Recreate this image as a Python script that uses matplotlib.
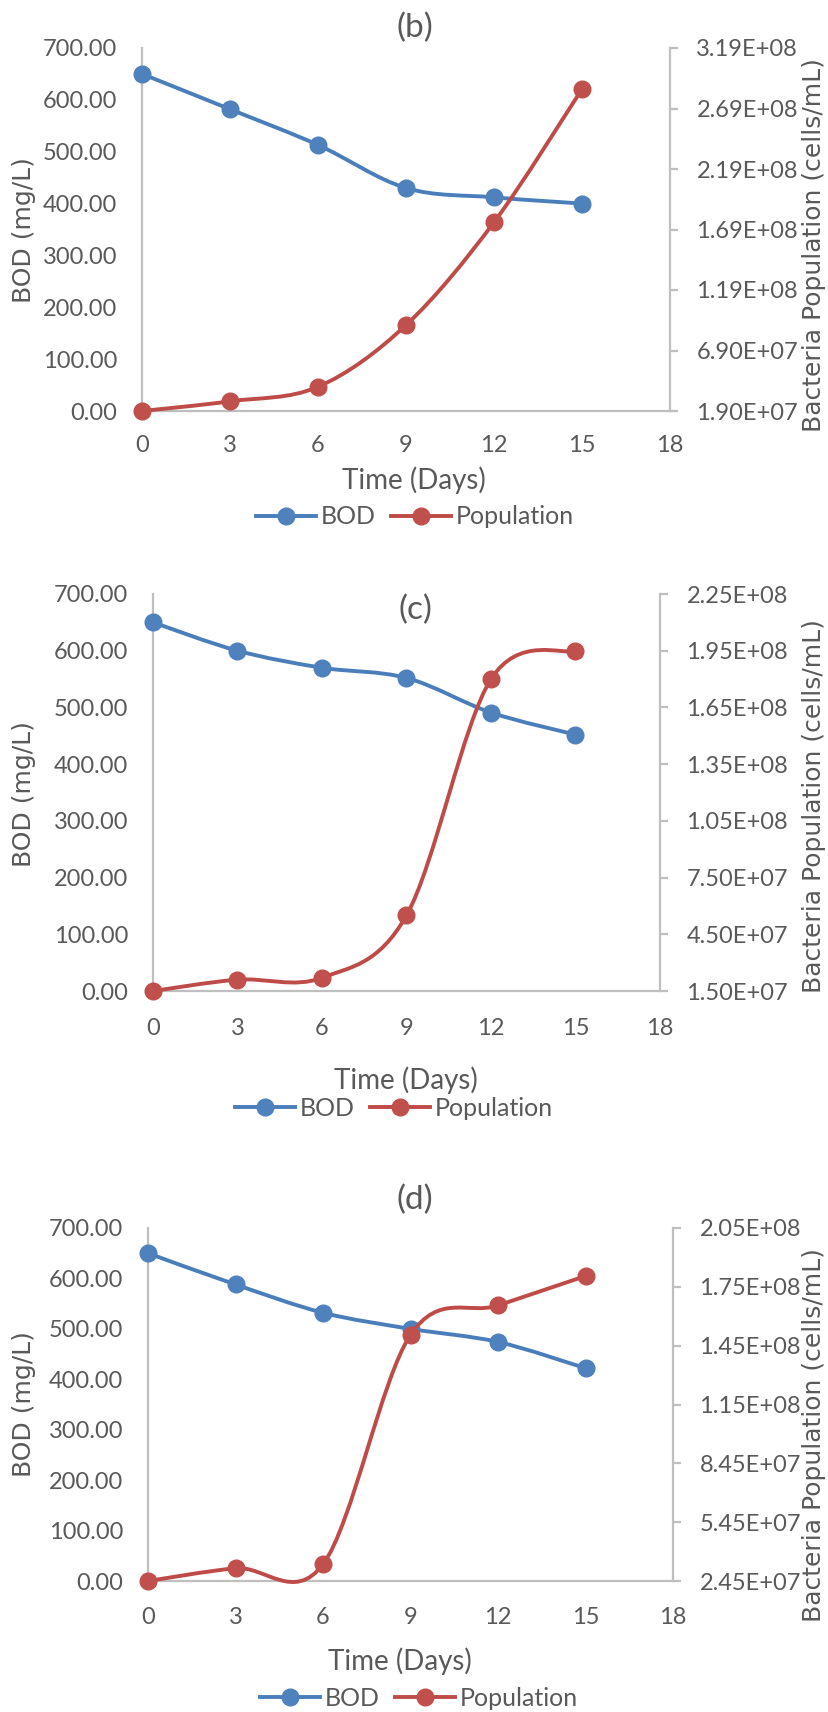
import matplotlib
matplotlib.use('Agg')
import matplotlib.pyplot as plt
from matplotlib.path import Path
from matplotlib.patches import PathPatch
from matplotlib.lines import Line2D

# data
days = [0, 3, 6, 9, 12, 15]

bod_b = [650, 582, 513, 430, 412, 400]
pop_b = [1.9e7, 2.7e7, 3.9e7, 9.0e7, 1.75e8, 2.85e8]

bod_c = [650, 600, 570, 552, 491, 452]
pop_c = [1.5e7, 2.1e7, 2.2e7, 5.5e7, 1.8e8, 1.95e8]

bod_d = [650, 588, 532, 500, 474, 422]
pop_d = [2.45e7, 3.1e7, 3.3e7, 1.5e8, 1.65e8, 1.8e8]

right_labels_b = ['1.90E+07', '6.90E+07', '1.19E+08', '1.69E+08', '2.19E+08', '2.69E+08', '3.19E+08']
right_labels_c = ['1.50E+07', '4.50E+07', '7.50E+07', '1.05E+08', '1.35E+08', '1.65E+08', '1.95E+08', '2.25E+08']
right_labels_d = ['2.45E+07', '5.45E+07', '8.45E+07', '1.15E+08', '1.45E+08', '1.75E+08', '2.05E+08']

W, H = 829, 1712
BLUE_LINE, BLUE_MK = '#4A7EBB', '#4F81BD'
RED_LINE, RED_MK = '#BE4B48', '#C0504D'
GRID = '#BFBFBF'
TXT = '#595959'

plt.rcParams['font.family'] = ['Lato', 'DejaVu Sans']

fig = plt.figure(figsize=(W / 100, H / 100), dpi=100)


def smooth_path(x, y):
    # excel style smoothed line (catmull-rom as cubic bezier)
    pts = list(zip(x, y))
    n = len(pts)
    verts = [pts[0]]
    codes = [Path.MOVETO]
    for i in range(n - 1):
        p0 = pts[i - 1] if i > 0 else pts[i]
        p1, p2 = pts[i], pts[i + 1]
        p3 = pts[i + 2] if i + 2 < n else pts[i + 1]
        c1 = (p1[0] + (p2[0] - p0[0]) / 6, p1[1] + (p2[1] - p0[1]) / 6)
        c2 = (p2[0] - (p3[0] - p1[0]) / 6, p2[1] - (p3[1] - p1[1]) / 6)
        verts += [c1, c2, p2]
        codes += [Path.CURVE4] * 3
    return Path(verts, codes)


def fx(px):
    return px / W


def fy(py):
    return 1 - py / H


def panel(box, bod, pop, lo, step, rlabels, title, title_y, xpad, time_xy,
          leg_xy, ylab_y, rlab_y):
    left, top, right, bottom = box
    ax = fig.add_axes([fx(left), fy(bottom), (right - left) / W, (bottom - top) / H])
    ax2 = ax.twinx()

    ax.set_xlim(0, 18)
    ax.set_ylim(0, 700)
    ax.set_xticks(range(0, 19, 3))
    ax.set_yticks(range(0, 701, 100))
    ax.set_yticklabels(['%.2f' % v for v in range(0, 701, 100)])
    hi = lo + step * (len(rlabels) - 1)
    ax2.set_ylim(lo, hi)
    ax2.set_yticks([lo + step * k for k in range(len(rlabels))], rlabels)

    for s in ['top', 'right']:
        ax.spines[s].set_visible(False)
    for s in ['top', 'left', 'bottom']:
        ax2.spines[s].set_visible(False)
    for sp in [ax.spines['left'], ax.spines['bottom'], ax2.spines['right']]:
        sp.set_color(GRID)
        sp.set_linewidth(1.6)

    ax.tick_params(axis='y', length=0, pad=18, labelsize=17, labelcolor=TXT)
    ax.tick_params(axis='x', length=0, pad=xpad, labelsize=17, labelcolor=TXT)
    ax2.tick_params(axis='y', length=6, width=1.6, color=GRID, pad=13,
                    labelsize=17, labelcolor=TXT)

    ax.add_patch(PathPatch(smooth_path(days, bod), facecolor='none',
                           edgecolor=BLUE_LINE, lw=2.8, clip_on=False, zorder=3))
    ax.plot(days, bod, 'o', color=BLUE_MK, ms=12, clip_on=False, zorder=4)
    ax2.add_patch(PathPatch(smooth_path(days, pop), facecolor='none',
                            edgecolor=RED_LINE, lw=2.8, clip_on=False, zorder=3))
    ax2.plot(days, pop, 'o', color=RED_MK, ms=12, clip_on=False, zorder=4)

    fig.text(fx(415), fy(title_y), title, ha='center', va='center',
             fontsize=24, color=TXT)
    fig.text(fx(time_xy[0]), fy(time_xy[1]), 'Time (Days)', ha='center',
             va='center', fontsize=20, color=TXT)
    fig.text(fx(24), fy(ylab_y), 'BOD (mg/L)', rotation=90, ha='center',
             va='center', fontsize=18, color=TXT, family='DejaVu Sans')
    fig.text(fx(814), fy(rlab_y), 'Bacteria Population (cells/mL)', rotation=90,
             ha='center', va='center', fontsize=18, color=TXT, family='DejaVu Sans')

    handles = [Line2D([], [], color=BLUE_LINE, lw=2.8, marker='o', ms=12, mfc=BLUE_MK, mec=BLUE_MK),
               Line2D([], [], color=RED_LINE, lw=2.8, marker='o', ms=12, mfc=RED_MK, mec=RED_MK)]
    leg = fig.legend(handles, ['BOD', 'Population'], loc='center',
                     bbox_to_anchor=(fx(leg_xy[0]), fy(leg_xy[1])), ncol=2,
                     frameon=False, fontsize=18, handlelength=2.4,
                     handletextpad=0.2, columnspacing=0.6, borderpad=0)
    for t in leg.get_texts():
        t.set_color(TXT)


panel((142, 48, 670, 411), bod_b, pop_b, 1.9e7, 5e7, right_labels_b,
      '(b)', 28, 17, (414, 480), (415, 517), 230, 245)
panel((153, 594, 660, 991), bod_c, pop_c, 1.5e7, 3e7, right_labels_c,
      '(c)', 610, 19.5, (406, 1080), (394, 1108), 794, 806)
panel((148, 1228, 673, 1581), bod_d, pop_d, 2.45e7, 3e7, right_labels_d,
      '(d)', 1200, 19, (400, 1661), (419, 1698), 1404, 1435)

fig.savefig('out.png', dpi=100, facecolor='white')
